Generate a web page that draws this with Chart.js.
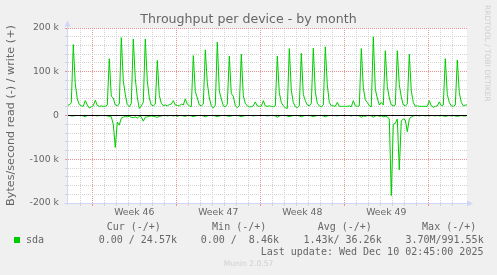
<!DOCTYPE html>
<html>
<head>
<meta charset="utf-8">
<script src="https://cdn.jsdelivr.net/npm/chart.js@4.4.0/dist/chart.umd.min.js"></script>
<style>
    html, body { margin: 0; padding: 0; background: #f0f0f0; }
    #wrap { position: relative; width: 497px; height: 275px; overflow: hidden; }
    #wrap canvas { position: absolute; left: 0; top: 0; }
    .t { position: absolute; white-space: pre; line-height: 1; color: #666; }
    .sans { font-family: 'DejaVu Sans', sans-serif; }
    .mono { font-family: 'DejaVu Sans Mono', monospace; font-size: 10px; }
    #title { left: 0; width: 497px; text-align: center; top: 13.3px; font-size: 12.6px; }
    #munin { left: 0; width: 497px; text-align: center; top: 259.6px; font-size: 7.6px; color: #cfcfcf; }
    #rrd { left: 483.5px; top: 5px; font-size: 7.5px; color: #cfcfcf; writing-mode: vertical-rl; }
    #swatch { position: absolute; left: 14px; top: 237px; width: 6px; height: 6px; background: #00cc00; }
</style>
</head>
<body>
<div id="wrap">
    <canvas id="chart" width="497" height="275"></canvas>
    <div id="title" class="t sans">Throughput per device - by month</div>
    <div id="rrd" class="t sans">RRDTOOL / TOBI OETIKER</div>
    <div class="t mono" style="left:106.7px; top:222px;">Cur (-/+)</div>
    <div class="t mono" style="left:212.1px; top:222px;">Min (-/+)</div>
    <div class="t mono" style="left:317.7px; top:222px;">Avg (-/+)</div>
    <div class="t mono" style="left:422.1px; top:222px;">Max (-/+)</div>
    <div id="swatch"></div>
    <div class="t mono" style="left:26px; top:235.2px;">sda</div>
    <div class="t mono" style="left:98.7px; top:235.2px;">0.00 / 24.57k</div>
    <div class="t mono" style="left:200.7px; top:235.2px;">0.00 /  8.46k</div>
    <div class="t mono" style="left:303.4px; top:235.2px;">1.43k/ 36.26k</div>
    <div class="t mono" style="left:405.4px; top:235.2px;">3.70M/991.55k</div>
    <div class="t mono" style="left:260.7px; top:247px;">Last update: Wed Dec 10 02:45:00 2025</div>
    <div id="munin" class="t sans">Munin 2.0.57</div>
</div>
<script>
// ---------------- DATA ----------------
// one sample every 4 hours, x measured in days from the start of week 46
const startDay = -2 - 1 / 12;
const stepDay = 1 / 6;
const xMin = -2.108;
const xMax = 31.225;

const weekLabels = ["Week 46", "Week 47", "Week 48", "Week 49"];

// write, kB/s (one row per day)
const writeK = [
    24,
    24, 29, 162, 72, 38, 25,
    22, 21, 34, 24, 17, 20,
    22, 35, 23, 21, 22, 21,     // week 46
    21, 24, 130, 44, 40, 24,
    22, 26, 178, 80, 48, 25,
    20, 28, 175, 85, 42, 16,
    22, 30, 175, 80, 40, 24,
    22, 26, 126, 46, 28, 22,
    24, 22, 25, 26, 34, 24,
    23, 22, 26, 24, 38, 26,     // week 47
    22, 20, 137, 55, 40, 24,
    22, 26, 150, 75, 40, 22,
    17, 24, 168, 56, 38, 22,
    20, 26, 136, 50, 44, 22,
    18, 22, 140, 45, 28, 22,
    20, 20, 22, 31, 22, 21,
    21, 34, 22, 21, 22, 21,     // week 48
    20, 22, 136, 52, 30, 22,
    18, 16, 153, 58, 30, 20,
    18, 22, 142, 48, 34, 24,
    22, 28, 154, 54, 28, 22,
    20, 24, 157, 70, 30, 22,
    22, 21, 30, 21, 21, 21,
    21, 21, 22, 20, 34, 22,     // week 49
    21, 22, 153, 64, 36, 30,
    22, 20, 180, 60, 40, 24,
    30, 24, 148, 66, 40, 24,
    22, 24, 148, 70, 42, 24,
    22, 26, 140, 56, 30, 21,
    22, 21, 21, 21, 21, 21,
    34, 22, 19, 21, 22, 31,
    22, 24, 130, 48, 30, 22,
    21, 24, 127, 52, 30, 22,
    24, 24
];

// read, kB/s (drawn below zero)
const readK = [
    0,
    0, -1, -1, 0, 0, 0,
    0, -1, -3, 0, 0, 0,
    0, 0, -1, 0, 0, 0,          // week 46
    0, -1, -2, -3, -20, -73,
    -15, -22, -6, -4, -2, -3,
    -2, -4, -5, -3, -6, -2,
    -3, -13, -4, -3, -2, -1,
    -2, -3, -4, -2, -1, 0,
    0, -1, 0, 0, -1, 0,
    -2, 0, 0, -1, -2, 0,        // week 47
    0, -1, -3, -1, 0, 0,
    0, -1, -3, -1, 0, 0,
    0, -1, -3, -1, 0, 0,
    0, -1, -2, -1, 0, 0,
    0, -1, -3, -1, 0, 0,
    0, 0, -1, 0, 0, 0,
    0, 0, 0, -1, 0, 0,          // week 48
    0, -1, -4, -1, 0, 0,
    0, -1, -3, -1, 0, 0,
    0, -1, -3, -1, 0, 0,
    0, -1, -3, -1, 0, 0,
    0, -1, -3, -1, 0, 0,
    0, 0, -1, 0, 0, 0,
    0, 0, 0, -1, 0, 0,          // week 49
    0, -1, -4, -1, -2, 0,
    0, -1, -4, -1, 0, -2,
    -1, -3, -2, -3, -8, -183,
    -20, -18, -8, -124, -12, -8,
    -10, -37, -8, -3, -1, 0,
    0, -1, 0, 0, -1, 0,
    -1, 0, 0, -1, 0, -1,
    0, -1, -2, -1, 0, -1,
    0, -1, -2, -1, 0, -1,
    -1, 0
];

// ---------------- STYLE ----------------
const GREEN = "#00cc00";
const AXIS = "#cfd6f8";
const MINOR = "#d2d2d2";
const MAJOR = "#eb9292";

const toPoints = (arr) => arr.map((v, i) => ({ x: startDay + i * stepDay, y: v * 1000 }));

Chart.defaults.font.family = "'DejaVu Sans', sans-serif";
Chart.defaults.color = "#666";

// white canvas behind the plot, zero rule and axis arrows on top
const muninFrame = {
    id: "muninFrame",
    beforeDraw(chart) {
        const { ctx, chartArea: a } = chart;
        ctx.save();
        ctx.fillStyle = "#ffffff";
        ctx.fillRect(a.left, a.top, a.right - a.left, a.bottom - a.top);
        ctx.restore();
    },
    afterDatasetsDraw(chart) {
        const { ctx, chartArea: a } = chart;
        const y0 = Math.floor(chart.scales.y.getPixelForValue(0)) + 0.5;
        ctx.save();
        ctx.strokeStyle = "#000000";
        ctx.lineWidth = 1;
        ctx.beginPath();
        ctx.moveTo(a.left, y0);
        ctx.lineTo(a.right, y0);
        ctx.stroke();
        ctx.restore();
    },
    afterDraw(chart) {
        const { ctx, chartArea: a } = chart;
        const x = Math.floor(a.left) + 0.5;
        const y = Math.floor(a.bottom) + 0.5;
        ctx.save();
        ctx.strokeStyle = AXIS;
        ctx.fillStyle = AXIS;
        ctx.lineWidth = 1;
        ctx.beginPath();
        ctx.moveTo(x, a.bottom + 2);
        ctx.lineTo(x, a.top - 3);
        ctx.moveTo(a.left - 3, y);
        ctx.lineTo(a.right + 2, y);
        ctx.stroke();
        ctx.beginPath();
        ctx.moveTo(x, a.top - 7.5);
        ctx.lineTo(x - 3, a.top - 1.5);
        ctx.lineTo(x + 3, a.top - 1.5);
        ctx.closePath();
        ctx.fill();
        ctx.beginPath();
        ctx.moveTo(a.right + 6, y);
        ctx.lineTo(a.right, y - 3);
        ctx.lineTo(a.right, y + 3);
        ctx.closePath();
        ctx.fill();
        ctx.restore();
    }
};

new Chart(document.getElementById("chart"), {
    type: "line",
    data: {
        datasets: [
            {
                label: "sda write",
                data: toPoints(writeK),
                borderColor: GREEN,
                borderWidth: 1,
                pointRadius: 0,
                tension: 0,
                fill: false,
            },
            {
                label: "sda read",
                data: toPoints(readK),
                borderColor: GREEN,
                borderWidth: 1,
                pointRadius: 0,
                tension: 0,
                fill: false,
            }
        ]
    },
    options: {
        responsive: false,
        animation: false,
        layout: { padding: { left: 0, top: 28, right: 30, bottom: 0 } },
        plugins: {
            legend: { display: false },
            tooltip: { enabled: false },
            title: { display: false },
        },
        scales: {
            x: {
                type: "linear",
                min: xMin,
                max: xMax,
                afterFit: (scale) => { scale.height = 72; },
                afterBuildTicks: (scale) => {
                    scale.ticks = scale.ticks.filter((t) => Number.isInteger(t.value));
                },
                grid: {
                    color: (ctx) => (ctx.tick && ctx.tick.value % 7 === 0 ? MAJOR : MINOR),
                    lineWidth: 1,
                    drawTicks: true,
                    tickLength: 3,
                },
                border: { display: true, color: AXIS, dash: [1, 1] },
                ticks: {
                    stepSize: 1,
                    autoSkip: false,
                    maxRotation: 0,
                    padding: 1,
                    labelOffset: 42,
                    font: { size: 9.3 },
                    callback: (v) => (v >= 0 && v % 7 === 0 ? (weekLabels[v / 7] || "") : ""),
                },
            },
            y: {
                min: -200000,
                max: 200000,
                afterFit: (scale) => { scale.width = 67; },
                grid: {
                    color: (ctx) => (ctx.tick && ctx.tick.value % 100000 === 0 ? MAJOR : MINOR),
                    lineWidth: 1,
                    drawTicks: true,
                    tickLength: 2,
                },
                border: { display: true, color: AXIS, dash: [1, 1] },
                title: {
                    display: true,
                    text: "Bytes/second read (-) / write (+)",
                    font: { size: 11.2 },
                    padding: { top: 4, bottom: 0 },
                },
                ticks: {
                    stepSize: 20000,
                    autoSkip: false,
                    padding: 6,
                    font: { size: 9.3 },
                    callback: (v) => (v === 0 ? "0" : (v % 100000 === 0 ? (v / 1000) + " k" : "")),
                },
            }
        }
    },
    plugins: [muninFrame]
});
</script>
</body>
</html>
